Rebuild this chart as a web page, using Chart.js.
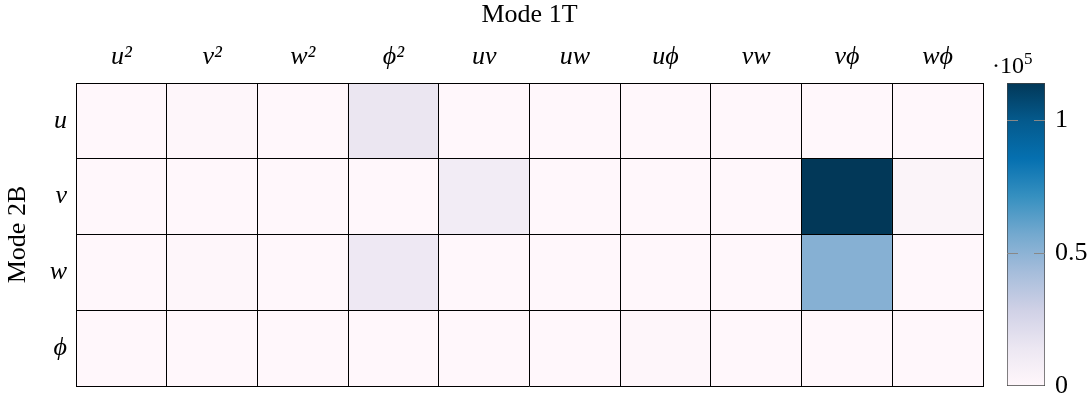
<!DOCTYPE html>
<html>
<head>
<meta charset="utf-8">
<script src="https://cdn.jsdelivr.net/npm/chart.js@4.4.0/dist/chart.umd.min.js"></script>
<style>
  html, body { margin: 0; padding: 0; background: #fff; }
  #wrap { position: relative; width: 1091px; height: 401px; }
  #heat { position: absolute; left: 0; top: 0; }
  #bar { position: absolute; left: 990px; top: 0; }
</style>
</head>
<body>
<div id="wrap">
  <canvas id="heat" width="1091" height="401"></canvas>
  <canvas id="bar" width="101" height="401"></canvas>
</div>
<script>
// Column / row labels
const colLabels = ['u²', 'v²', 'w²', 'ϕ²', 'uv', 'uw', 'uϕ', 'vw', 'vϕ', 'wϕ'];
const rowLabels = ['u', 'v', 'w', 'ϕ'];

// Values (x 10^5), one array per row of Mode 2B
const rowU   = [0, 0.01, 0, 0.15, 0, 0, 0, 0, 0, 0];
const rowV   = [0, 0, 0, 0, 0.10, 0, 0, 0, 1.14, 0.03];
const rowW   = [0, 0.01, 0, 0.13, 0, 0, 0, 0, 0.52, 0];
const rowPhi = [0, 0, 0, 0, 0, 0, 0.01, 0, 0, 0];
const rows = [rowU, rowV, rowW, rowPhi];

// Colorbar ticks
const cbTicks = [0, 0.5, 1];

// PuBu colormap
const pubu = ['#fff7fb', '#ece7f2', '#d0d1e6', '#a6bddb', '#74a9cf', '#3690c0', '#0570b0', '#045a8d', '#023858'];

const vmax = Math.max(...rows.flat());

const mathFont = { family: 'Liberation Serif', size: 26, style: 'italic' };
const textFont = { family: 'Liberation Serif', size: 26 };

function hexToRgb(h) {
  return [1, 3, 5].map(i => parseInt(h.substr(i, 2), 16));
}

// Map a value to a PuBu color
function pubuColor(v) {
  const t = Math.min(Math.max(v / vmax, 0), 1) * (pubu.length - 1);
  const i = Math.min(Math.floor(t), pubu.length - 2);
  const f = t - i;
  const a = hexToRgb(pubu[i]);
  const b = hexToRgb(pubu[i + 1]);
  const c = a.map((x, k) => Math.round(x + (b[k] - x) * f));
  return `rgb(${c[0]},${c[1]},${c[2]})`;
}

// no edge padding from tick labels, keep the plot box fixed
function noPad(s) {
  s.paddingTop = 0;
  s.paddingBottom = 0;
  s.paddingLeft = 0;
  s.paddingRight = 0;
}

// One floating-bar dataset per row
const datasets = rows.map((vals, r) => ({
  label: rowLabels[r],
  data: vals.map(() => [r, r + 1]),
  backgroundColor: vals.map(pubuColor),
  borderWidth: 0,
  barPercentage: 1,
  categoryPercentage: 1,
  grouped: false,
  yAxisID: 'y'
}));

new Chart(document.getElementById('heat'), {
  type: 'bar',
  data: { labels: colLabels, datasets: datasets },
  options: {
    responsive: false,
    animation: false,
    layout: { padding: { left: 0, top: 0, right: 108, bottom: 15 } },
    scales: {
      x: {
        type: 'category',
        position: 'top',
        offset: true,
        grid: { color: '#000', lineWidth: 1, offset: true, drawTicks: false, z: 1 },
        border: { color: '#000', width: 1, z: 1 },
        ticks: { color: '#000', font: mathFont, padding: 10, maxRotation: 0 },
        title: { display: true, text: 'Mode 1T', font: textFont, color: '#000', padding: { top: 0, bottom: 0 } },
        afterFit: s => { s.height = 83; noPad(s); }
      },
      y: {
        type: 'linear',
        position: 'left',
        min: 0,
        max: 4,
        reverse: true,
        afterBuildTicks: s => { s.ticks = rowLabels.map((_, i) => ({ value: i + 0.5 })); },
        ticks: { color: '#000', font: mathFont, padding: 9, callback: v => rowLabels[Math.floor(v)] },
        grid: { display: false, drawTicks: false },
        border: { display: true, color: '#000', width: 1, z: 1 },
        title: { display: true, text: 'Mode 2B', font: textFont, color: '#000', padding: { top: 3, bottom: 0 } },
        afterFit: s => { s.width = 76; noPad(s); }
      },
      yg: {
        type: 'linear',
        position: 'right',
        min: 0,
        max: 4,
        ticks: { display: false, stepSize: 1 },
        grid: { color: '#000', lineWidth: 1, drawTicks: false, z: 1 },
        border: { color: '#000', width: 1, z: 1 },
        afterFit: s => { s.width = 0; noPad(s); }
      }
    },
    plugins: { legend: { display: false }, tooltip: { enabled: false } }
  }
});

// Small gray tick marks inside the colorbar
const cbTickMarks = {
  id: 'cbTickMarks',
  afterDatasetsDraw(chart) {
    const { ctx, chartArea } = chart;
    const y = chart.scales.y;
    ctx.save();
    ctx.strokeStyle = '#888';
    ctx.lineWidth = 1;
    cbTicks.slice(1).forEach(v => {
      const py = Math.round(y.getPixelForValue(v)) + 0.5;
      ctx.beginPath();
      ctx.moveTo(chartArea.left, py);
      ctx.lineTo(chartArea.left + 11, py);
      ctx.moveTo(chartArea.right - 11, py);
      ctx.lineTo(chartArea.right, py);
      ctx.stroke();
    });
    ctx.restore();
  }
};

// Exponent label above the colorbar
const cbExponent = {
  id: 'cbExponent',
  afterDraw(chart) {
    const ctx = chart.ctx;
    ctx.save();
    ctx.fillStyle = '#000';
    ctx.textBaseline = 'alphabetic';
    ctx.font = '24px "Liberation Serif"';
    ctx.fillText('·10', 2, 73);
    const w = ctx.measureText('·10').width;
    ctx.font = '17px "Liberation Serif"';
    ctx.fillText('5', 2 + w, 64);
    ctx.restore();
  }
};

new Chart(document.getElementById('bar'), {
  type: 'bar',
  data: {
    labels: [''],
    datasets: [{
      data: [[0, vmax]],
      backgroundColor: c => {
        const a = c.chart.chartArea;
        if (!a) return pubu[0];
        const g = c.chart.ctx.createLinearGradient(0, a.bottom, 0, a.top);
        pubu.forEach((col, i) => g.addColorStop(i / (pubu.length - 1), col));
        return g;
      },
      borderColor: '#444',
      borderWidth: 1,
      borderSkipped: false,
      barPercentage: 1,
      categoryPercentage: 1
    }]
  },
  options: {
    responsive: false,
    animation: false,
    layout: { padding: { left: 17, top: 83, bottom: 15, right: 0 } },
    scales: {
      x: { display: false },
      y: {
        position: 'right',
        min: 0,
        max: vmax,
        afterBuildTicks: s => { s.ticks = cbTicks.map(v => ({ value: v })); },
        ticks: { color: '#000', font: textFont, padding: 10, callback: v => String(v) },
        grid: { display: false, drawTicks: false },
        border: { display: false },
        afterFit: s => { s.width = 101 - 17 - 38; noPad(s); }
      }
    },
    plugins: { legend: { display: false }, tooltip: { enabled: false } }
  },
  plugins: [cbTickMarks, cbExponent]
});
</script>
</body>
</html>
